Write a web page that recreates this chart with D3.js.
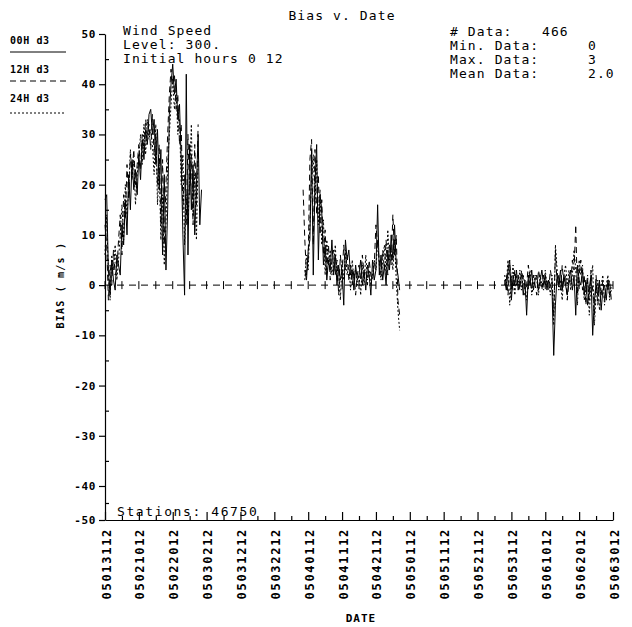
<!DOCTYPE html>
<html>
<head>
<meta charset="utf-8">
<script src="https://cdn.jsdelivr.net/npm/d3@7"></script>
<style>
  body { margin: 0; background: #fff; }
  text { font-family: "DejaVu Sans Mono", monospace; fill: #000; }
</style>
</head>
<body>
<div id="graph"></div>
<script>
// tick labels on the date axis (YYMMDDHH)
const xLabels = ["05013112", "05021012", "05022012", "05030212", "05031212", "05032212",
  "05040112", "05041112", "05042112", "05050112", "05051112", "05052112",
  "05053112", "05061012", "05062012", "05063012"];
const yTicks = [-50, -40, -30, -20, -10, 0, 10, 20, 30, 40, 50];
const yMinor = [-45, -35, -25, -15, -5, 5, 15, 25, 35, 45];

// bias values every 12 hours, one array per gap-free stretch
const starts00 = ["05013112", "05033112", "05052912"];
const h00_seg1 = [17, 18, 3, -2, 5, 1, -1, 6, 4, 2, 12, 8, 17, 10, 22, 15, 25, 19, 23, 18,
  26, 21, 29, 25, 31, 28, 34, 35, 30, 33, 24, 31, 19, 27, 6, 22, 3, 15, 34, 40,
  44, 38, 41, 33, 36, 25, 10, -2, 42, 6, 28, 15, 24, 10, 20, 30, 12, 19];
const h00_seg2 = [3, 1, 7, 9, 27, 2, 20, 28, 5, 18, 15, 4, 8, 1, 5, 3, 9, 2, 6, 0,
  4, 1, 3, -4, 9, 5, 7, 2, 3, -1, 4, 1, 2, 5, 0, 3, -1, 4, 2, -2,
  5, 1, 3, 16, 2, 6, 1, 4, 0, 7, 3, 10, 5, 12, 4, 2, -1];
const h00_seg3 = [1, -1, 3, 5, -3, 2, 0, 3, -1, 1, 2, -2, 1, -6, 2, 0, 3, -1, 1, 2,
  -1, 1, 3, 0, 2, -1, 1, 0, -1, -14, -4, 2, 0, 3, -1, 2, 0, -2, 1, 3,
  -1, 2, -6, 4, 1, 0, 3, -2, 1, -4, -1, 2, -10, -3, 0, -2, 1, -5, -1, 0,
  -3, 1, -2, -1];

const starts12 = ["05013112", "05033100", "05052912"];
const h12_seg1 = [12, 8, -3, 4, 0, 7, 2, 3, 9, 14, 6, 18, 13, 24, 17, 26, 22, 27, 20, 24,
  28, 23, 30, 27, 33, 30, 32, 27, 34, 26, 30, 20, 28, 12, 25, 8, 20, 30, 38, 43,
  40, 42, 35, 38, 28, 32, 15, 22, 12, 30, 18, 26, 12, 28, 16, 32];
const h12_seg2 = [19, 9, 2, 5, 25, 29, 8, 27, 14, 22, 10, 17, 6, 11, 3, 8, 1, 5, 7, 2,
  5, -2, 6, 2, 8, 3, 6, 1, 4, 0, 3, -2, 2, 4, 1, 6, 2, 3, 0, 5,
  2, 1, 4, 12, 8, 5, 2, 7, 3, 9, 2, 8, 4, 14, 6, 10, -3, -6];
const h12_seg3 = [0, 2, -2, 4, 1, -1, 3, 0, 2, -1, 3, 1, -2, 0, 4, 1, -1, 2, 0, -2,
  3, 1, -1, 2, 0, 1, -1, 3, 1, -6, 7, 0, 2, -1, 4, 0, 2, -3, 1, 0,
  5, 3, 12, -2, 2, 5, -1, 2, -4, 1, -3, 3, -1, -6, 2, -4, 0, -2, 1, -3,
  0, -1, 1, -3];

const starts24 = ["05013112", "05033112", "05052912"];
const h24_seg1 = [6, 14, 2, -3, 6, 3, 8, 1, 5, 10, 16, 9, 20, 14, 19, 27, 21, 25, 16, 22,
  26, 30, 24, 32, 26, 33, 29, 31, 28, 22, 32, 16, 24, 9, 18, 4, 12, 24, 30, 36,
  41, 35, 39, 30, 33, 20, 26, 8, 18, 12, 22, 32, 14, 22, 9, 26];
const h24_seg2 = [1, 6, 3, 12, 22, 26, 16, 25, 12, 19, 8, 13, 2, 9, 4, 7, 2, 4, 8, 1,
  3, -3, 5, 1, 7, 2, 4, -1, 5, 1, 3, 0, 2, -2, 4, 0, 6, 1, 3, 0,
  2, 5, 3, 9, 4, 1, 5, 8, 2, 11, 5, 7, 3, 9, 1, -5, -9];
const h24_seg3 = [2, 0, 5, -4, 1, 4, -2, 2, 0, 3, -1, 2, 0, -3, 1, 3, -2, 0, 2, 1,
  -2, 2, 0, -1, 3, 0, 1, -2, 2, -8, 8, 3, -1, 1, -3, 2, 4, 0, 3, -1,
  2, 7, 3, -4, 5, 2, 4, -3, -1, 2, -6, 1, 4, -8, -2, 1, -5, 0, 2, -4,
  0, 2, -3, 0];

const series = [
  { name: "00H d3", starts: starts00, segs: [h00_seg1, h00_seg2, h00_seg3], dash: null },
  { name: "12H d3", starts: starts12, segs: [h12_seg1, h12_seg2, h12_seg3], dash: "6,4" },
  { name: "24H d3", starts: starts24, segs: [h24_seg1, h24_seg2, h24_seg3], dash: "2,2" }
];

const W = 632, H = 627;
const plotLeft = 105, plotRight = 613, plotTop = 34, plotBottom = 520;

const parse = s => new Date(Date.UTC(2000 + +s.slice(0, 2), +s.slice(2, 4) - 1, +s.slice(4, 6), +s.slice(6, 8)));

let svg = d3.select("#graph").append("svg")
  .attr("width", W).attr("height", H);

let x = d3.scaleUtc()
  .domain([parse(xLabels[0]), parse(xLabels[xLabels.length - 1])])
  .range([plotLeft, plotRight]);

// the bottom interval of the original axis is drawn shorter than the others
let y = d3.scaleLinear().domain([-50, -40, 50]).range([plotBottom, 486, plotTop]);

const majorDates = xLabels.map(parse);
const minorDates = majorDates.slice(0, -1).map(d => d3.utcDay.offset(d, 5));

// y axis
svg.append("g")
  .attr("transform", `translate(${plotLeft},0)`)
  .call(d3.axisLeft(y).tickValues(yTicks).tickSize(6).tickPadding(3).tickSizeOuter(0)
    .tickFormat(d => d))
  .call(g => g.selectAll("text").style("font-size", "11px").style("letter-spacing", "0.6px")
    .style("font-family", "DejaVu Sans Mono").style("font-weight", "bold"));

svg.append("g")
  .attr("transform", `translate(${plotLeft},0)`)
  .call(d3.axisRight(y).tickValues(yMinor).tickSize(4).tickFormat(""))
  .call(g => g.select(".domain").remove());

// x axis
svg.append("g")
  .attr("transform", `translate(0,${plotBottom})`)
  .call(d3.axisBottom(x).tickValues(majorDates).tickSize(-8).tickSizeOuter(0)
    .tickFormat((d, i) => xLabels[i]))
  .call(g => g.selectAll("text")
    .attr("transform", "translate(5,8) rotate(-90)")
    .attr("x", 0).attr("y", 0).attr("dy", 0)
    .style("text-anchor", "end")
    .style("font-size", "12px")
    .style("letter-spacing", "1.7px")
    .style("font-family", "DejaVu Sans Mono")
    .style("font-weight", "bold"));

svg.append("g")
  .attr("transform", `translate(0,${plotBottom})`)
  .call(d3.axisBottom(x).tickValues(minorDates).tickSize(-4).tickFormat(""))
  .call(g => g.select(".domain").remove());

svg.selectAll(".domain, .tick line").attr("stroke", "#000").attr("stroke-width", 1.2);

// zero reference line with crosses
svg.append("line")
  .attr("x1", plotLeft).attr("x2", plotRight)
  .attr("y1", y(0)).attr("y2", y(0))
  .attr("stroke", "#000").attr("stroke-dasharray", "7,5");

svg.append("g").selectAll("line")
  .data(majorDates.concat(minorDates))
  .join("line")
  .attr("x1", d => x(d)).attr("x2", d => x(d))
  .attr("y1", y(0) - 4).attr("y2", y(0) + 4)
  .attr("stroke", "#000");

// data lines
let line = d3.line().x(d => x(d.date)).y(d => y(d.value));

series.forEach(s => {
  s.segs.forEach((vals, k) => {
    const t0 = parse(s.starts[k]);
    const pts = vals.map((v, i) => ({ date: d3.utcHour.offset(t0, 12 * i), value: v }));
    svg.append("path")
      .datum(pts)
      .attr("fill", "none")
      .attr("stroke", "#000")
      .attr("stroke-width", 1)
      .attr("stroke-dasharray", s.dash)
      .attr("d", line);
  });
});

// titles and notes
const big = sel => sel.style("font-size", "13px").style("letter-spacing", "1.1px");

svg.append("text").attr("x", 342).attr("y", 20).style("text-anchor", "middle")
  .call(big).text("Bias v. Date");

svg.append("text").attr("x", 123).attr("y", 35).call(big).text("Wind Speed");
svg.append("text").attr("x", 123).attr("y", 49).call(big).text("Level: 300.");
svg.append("text").attr("x", 123).attr("y", 63).call(big).text("Initial hours  0 12");

const statLabels = ["# Data:", "Min. Data:", "Max. Data:", "Mean Data:"];
const statValues = ["466", "0", "3", "2.0"];
const statX = [542, 588, 588, 588];
statLabels.forEach((t, i) => {
  svg.append("text").attr("x", 450).attr("y", 36 + i * 14).call(big).text(t);
  svg.append("text").attr("x", statX[i]).attr("y", 36 + i * 14).call(big).text(statValues[i]);
});

svg.append("text").attr("x", 117).attr("y", 516).call(big)
  .style("letter-spacing", "1.6px").text("Stations: 46750");

// legend
series.forEach((s, i) => {
  const ty = 44 + i * 29;
  svg.append("text").attr("x", 10).attr("y", ty)
    .style("font-size", "10px").style("font-weight", "bold").style("letter-spacing", "0.6px")
    .text(s.name);
  svg.append("line")
    .attr("x1", 10).attr("x2", 66)
    .attr("y1", ty + 8 + (i === 2 ? 3 : 0)).attr("y2", ty + 8 + (i === 2 ? 3 : 0))
    .attr("stroke", "#000").attr("stroke-dasharray", s.dash);
});

// axis titles
svg.append("text")
  .attr("transform", `translate(64,${y(0)}) rotate(-90)`)
  .style("text-anchor", "middle")
  .style("font-size", "10px").style("font-weight", "bold").style("letter-spacing", "1.2px")
  .text("BIAS ( m/s )");

svg.append("text")
  .attr("x", 361).attr("y", 622)
  .style("text-anchor", "middle")
  .style("font-size", "11px").style("font-weight", "bold").style("letter-spacing", "1px")
  .text("DATE");
</script>
</body>
</html>
